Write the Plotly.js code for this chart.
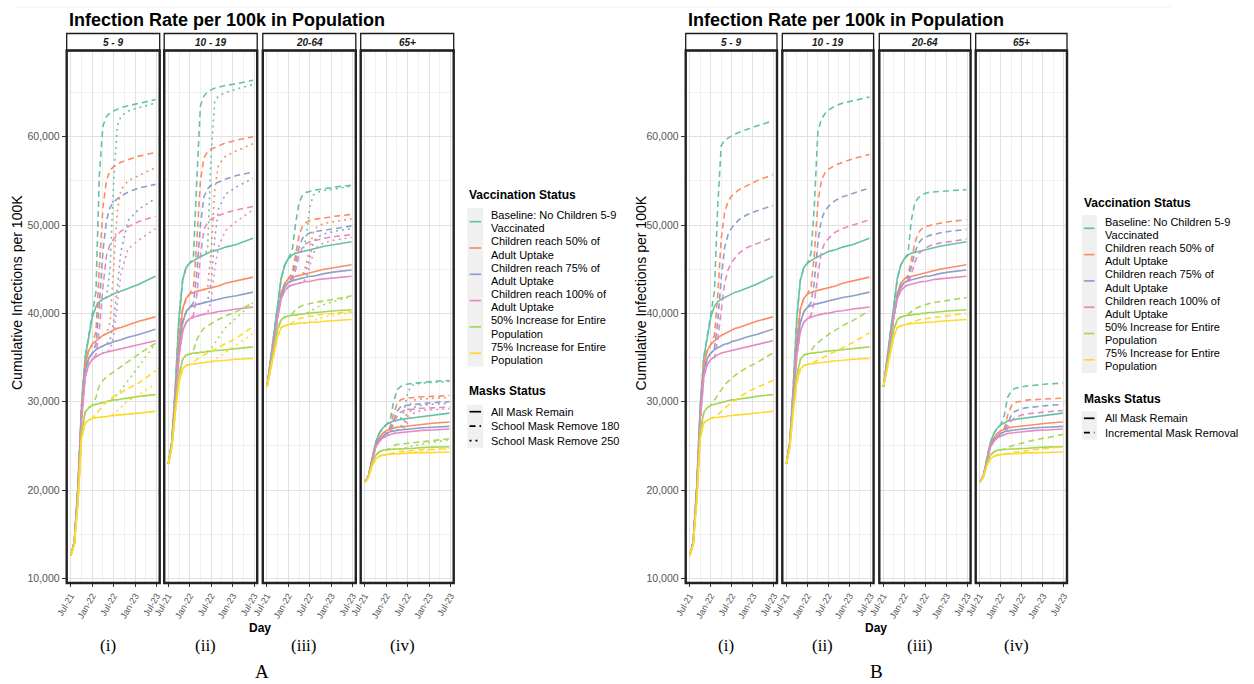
<!DOCTYPE html>
<html>
<head>
<meta charset="utf-8">
<script src="https://cdn.plot.ly/plotly-3.0.1.min.js"></script>
<style>
html,body{margin:0;padding:0;background:#ffffff;}
#chart{width:1254px;height:684px;}
</style>
</head>
<body>
<div id="chart"></div>
<script>
// ---------------- DATA ----------------
const dates = ['2021-07-03','2021-08-01','2021-09-01','2021-10-01','2021-11-01','2021-12-01',
  '2022-01-01','2022-02-01','2022-03-01','2022-04-01','2022-05-01','2022-06-01',
  '2022-07-01','2022-08-01','2022-09-01','2022-11-01','2023-02-01','2023-06-22'];
// dashed series continue the solid series from 2022-01-01 (index 6); dotted from 2022-05-01 (index 10)

const ageGroups = ['5 - 9', '10 - 19', '20-64', '65+'];
const panelLabels = ['(i)', '(ii)', '(iii)', '(iv)'];
const figureLabels = ['A', 'B'];
const scenarioLines = [
  ['Baseline: No Children 5-9', 'Vaccinated'],
  ['Children reach 50% of', 'Adult Uptake'],
  ['Children reach 75% of', 'Adult Uptake'],
  ['Children reach 100% of', 'Adult Uptake'],
  ['50% Increase for Entire', 'Population'],
  ['75% Increase for Entire', 'Population']
];
const masksA = ['All Mask Remain', 'School Mask Remove 180', 'School Mask Remove 250'];
const masksB = ['All Mask Remain', 'Incremental Mask Removal'];

// All Mask Remain (same in A and B), one row per vaccination scenario
const SOLID_5_9 = [
  [12600,14200,20500,29500,35000,37500,39600,40800,41300,41600,41800,42000,42200,42400,42500,42800,43300,44200],
  [12600,14100,20200,28800,34200,35800,36500,36900,37200,37500,37700,37900,38100,38300,38400,38700,39100,39600],
  [12600,14100,20000,28300,33500,34900,35500,35900,36100,36300,36500,36600,36800,36900,37000,37300,37600,38200],
  [12600,14000,19800,27800,32800,34200,34800,35100,35300,35500,35600,35700,35800,35900,36000,36200,36500,36900],
  [12600,13900,19000,26500,28800,29300,29600,29700,29800,29900,30000,30100,30200,30200,30300,30400,30600,30800],
  [12600,13800,18700,25800,27600,27900,28100,28200,28200,28300,28300,28400,28400,28500,28500,28600,28700,28900]
];
const SOLID_10_19 = [
  [23000,25500,32000,39500,43800,45200,45700,46000,46200,46400,46600,46800,47000,47100,47200,47500,47800,48500],
  [23000,25300,31000,37000,40500,41700,42200,42400,42500,42600,42700,42800,42900,43000,43100,43400,43700,44100],
  [23000,25200,30800,36000,39000,40200,40700,40900,41000,41100,41200,41300,41400,41500,41600,41800,42000,42400],
  [23000,25100,30500,35200,38000,39000,39400,39600,39700,39800,39900,40000,40000,40100,40200,40300,40500,40700],
  [23000,25000,29500,33000,34800,35300,35400,35500,35500,35600,35600,35700,35700,35800,35800,35900,36000,36200],
  [23000,24800,29000,32200,33700,34100,34200,34300,34300,34400,34400,34500,34500,34600,34600,34700,34800,34900]
];
const SOLID_20_64 = [
  [31700,34500,37500,41000,44000,45500,46200,46600,46800,46900,47000,47100,47200,47300,47400,47600,47800,48100],
  [31700,34200,37000,40000,42300,43400,43900,44100,44200,44300,44400,44500,44600,44700,44800,45000,45200,45500],
  [31700,34100,36900,39800,42000,43000,43500,43700,43800,43900,44000,44100,44200,44200,44300,44500,44700,44900],
  [31700,34000,36800,39600,41700,42600,43000,43200,43300,43400,43500,43600,43600,43700,43800,43900,44000,44200],
  [31700,33600,36000,38200,39300,39600,39700,39800,39800,39900,39900,40000,40000,40100,40100,40200,40300,40400],
  [31700,33400,35500,37400,38400,38600,38700,38800,38800,38900,38900,38900,39000,39000,39000,39100,39200,39300]
];
const SOLID_65 = [
  [20900,21500,23500,25300,26400,27000,27400,27600,27800,27900,28000,28050,28100,28150,28200,28300,28450,28700],
  [20900,21500,23300,25000,25900,26400,26700,26900,27000,27100,27150,27200,27250,27300,27350,27450,27550,27700],
  [20900,21500,23300,24900,25700,26100,26400,26600,26700,26750,26800,26850,26900,26950,27000,27050,27100,27200],
  [20900,21500,23200,24800,25500,25900,26100,26300,26400,26450,26500,26550,26600,26650,26700,26750,26800,26900],
  [20900,21400,22900,23900,24300,24500,24550,24600,24600,24650,24650,24700,24700,24700,24750,24800,24850,24900],
  [20900,21400,22700,23500,23800,23950,24000,24050,24100,24100,24100,24150,24150,24200,24200,24200,24250,24300]
];

// A: School Mask Remove 180 (from 2022-01-01)
const DASH180_5_9 = [
  [39600,42500,55500,61200,62300,62700,62900,63100,63300,63500,63800,64200],
  [36500,38000,45000,52000,55000,56200,56600,56900,57100,57400,57800,58200],
  [35500,36500,41000,47000,50500,52000,52600,53000,53300,53700,54200,54600],
  [34800,35300,38000,43000,46500,47800,48400,48900,49300,49800,50400,51000],
  [29600,30500,31800,32400,32800,33100,33400,33700,34000,34600,35400,36600],
  [28100,28600,29100,29600,30000,30300,30600,30800,31000,31500,32100,33500]
];
const DASH180_10_19 = [
  [45700,46500,55000,63500,64600,65100,65300,65500,65600,65800,66000,66400],
  [42200,43000,48000,55000,57600,58300,58600,58800,59000,59300,59600,60000],
  [40700,41200,44500,50000,53200,54100,54500,54700,54900,55200,55600,56000],
  [39400,39800,42000,46500,49500,50300,50700,50900,51100,51400,51700,52100],
  [35400,35800,37000,37800,38300,38600,38900,39100,39300,39700,40200,41200],
  [34200,34400,34800,35100,35300,35500,35700,35900,36100,36500,37200,38500]
];
const DASH180_20_64 = [
  [46200,47000,50000,52500,53400,53700,53800,53900,54000,54100,54300,54500],
  [43900,44500,46500,48800,49900,50300,50500,50600,50700,50800,51000,51200],
  [43500,44000,45600,47500,48500,48900,49100,49200,49300,49400,49600,49900],
  [43000,43400,44800,46500,47500,47900,48100,48200,48300,48500,48700,48900],
  [39700,39900,40400,40700,40900,41000,41100,41200,41300,41400,41600,42000],
  [38700,38900,39200,39400,39500,39600,39700,39700,39800,39900,40000,40200]
];
const DASH180_65 = [
  [27400,27800,29800,31300,31700,31900,32000,32050,32100,32200,32300,32400],
  [26700,27100,28500,29700,30200,30350,30400,30450,30500,30550,30600,30700],
  [26400,26700,27800,28900,29400,29550,29600,29650,29700,29800,29900,30000],
  [26100,26400,27300,28300,28800,29000,29100,29150,29200,29250,29300,29400],
  [24550,24700,25000,25150,25200,25250,25300,25350,25400,25500,25600,25800],
  [24000,24100,24250,24300,24350,24400,24400,24450,24500,24550,24600,24700]
];

// A: School Mask Remove 250 (from 2022-05-01)
const DOT250_5_9 = [
  [41800,45000,55000,61200,62300,62900,63300,63800],
  [37700,39000,45000,51500,54000,55000,55600,56500],
  [36500,37000,39000,43000,47000,50500,51800,53000],
  [35600,35900,37500,41000,44500,47300,48300,49600],
  [30000,30100,30400,30800,31300,32400,34000,36600],
  [28300,28400,28600,29000,29400,30100,30800,32000]
];
const DOT250_10_19 = [
  [46600,47200,58000,64000,64600,65000,65400,65900],
  [42700,42900,47000,54000,56800,57800,58400,59200],
  [41200,41400,43500,48500,51800,53500,54300,55300],
  [39900,40000,41500,45000,47500,49400,50400,51700],
  [35600,35700,36000,36600,37300,38400,39500,41200],
  [34400,34500,34600,34800,35000,35600,36400,37700]
];
const DOT250_20_64 = [
  [47000,48500,52000,53400,53700,53900,54100,54400],
  [44400,45500,47500,49200,49800,50200,50400,50700],
  [44000,44800,46500,48000,48600,49000,49300,49600],
  [43500,44000,45300,46800,47500,48000,48300,48600],
  [39900,40000,40200,40500,40700,41000,41400,41900],
  [38900,38900,39000,39200,39300,39600,39800,40100]
];
const DOT250_65 = [
  [28000,29000,31000,31800,32000,32100,32200,32300],
  [27150,27800,29000,29900,30200,30300,30400,30500],
  [26800,27300,28300,29100,29400,29600,29700,29800],
  [26500,26900,27700,28400,28800,29000,29100,29200],
  [24650,24700,24800,24950,25050,25200,25400,25700],
  [24100,24150,24200,24300,24350,24450,24550,24650]
];

// B: Incremental Mask Removal (from 2022-01-01)
const INCR_5_9 = [
  [39600,42500,52000,59000,59600,59900,60100,60300,60500,60800,61200,61800],
  [36500,37500,42000,48500,51500,52700,53300,53700,54000,54400,55000,55700],
  [35500,36000,39000,44000,47500,49000,49700,50200,50600,51100,51600,52200],
  [34800,35000,37000,40500,43500,45000,45800,46300,46800,47400,47900,48600],
  [29600,30200,30800,31400,31900,32300,32700,33000,33300,33800,34400,35500],
  [28100,28300,28500,28900,29300,29600,29900,30200,30500,31000,31600,32400]
];
const INCR_10_19 = [
  [45700,46800,52000,60500,62000,62600,63000,63300,63500,63800,64100,64500],
  [42200,43000,46500,52500,55000,55900,56300,56600,56800,57100,57500,58000],
  [40700,41200,43500,48000,50600,51600,52100,52500,52800,53200,53600,54200],
  [39400,39800,41300,44500,47000,48000,48500,48900,49200,49600,50000,50600],
  [35400,35800,36300,36700,37000,37300,37600,37900,38100,38600,39200,40300],
  [34200,34300,34500,34700,34900,35100,35300,35500,35700,36100,36700,37800]
];
const INCR_20_64 = [
  [46200,46800,50500,52500,53100,53400,53600,53700,53750,53800,53900,54000],
  [43900,44300,46000,48000,49100,49600,49800,49950,50050,50200,50400,50600],
  [43500,43800,45200,46900,47900,48400,48600,48800,48900,49100,49300,49500],
  [43000,43300,44400,45800,46700,47100,47400,47600,47750,47950,48150,48400],
  [39700,39900,40200,40500,40700,40850,41000,41100,41200,41350,41500,41800],
  [38700,38800,39000,39150,39250,39350,39400,39500,39550,39650,39800,40000]
];
const INCR_65 = [
  [27400,28500,30500,31200,31500,31600,31700,31750,31800,31900,32000,32100],
  [26700,27000,28500,29500,29900,30000,30100,30150,30200,30250,30300,30400],
  [26400,26600,27600,28500,28900,29100,29200,29300,29350,29450,29550,29700],
  [26100,26300,27000,27800,28200,28400,28500,28600,28650,28750,28850,29000],
  [24550,24650,24850,25000,25100,25200,25300,25400,25500,25700,25900,26300],
  [24000,24050,24150,24250,24300,24350,24400,24450,24500,24600,24700,24900]
];

// ---------------- STYLE / LAYOUT ----------------
const W = 1254, H = 684;
const colors = ['#66C2A5','#FC8D62','#8DA0CB','#E78AC3','#A6D854','#FFD92F'];
const DASH = '6px,4px';
const DOT = '2px,4px';
const FONT = 'Liberation Sans, Arial, sans-serif';
const SERIF = 'Liberation Serif, Times New Roman, serif';
const LW = 1.6;

const PANEL_TOP = 50.5, PANEL_BOTTOM = 583, STRIP_TOP = 33.5;
const figs = [
  {lefts: [66.7, 164.2, 262.8, 360.7], w: 93, yaxis: 'y', yName: 'yaxis', firstX: 1,
   dashSets: [DASH180_5_9, DASH180_10_19, DASH180_20_64, DASH180_65],
   dotSets: [DOT250_5_9, DOT250_10_19, DOT250_20_64, DOT250_65],
   legend: {x: 467.3, boxW: 16, titleY: 195, boxTop: 208, keyY0: 221.7, step: 26.3, textX: 489.3,
            mTitleY: 391, mKeys: [411.7, 426.2, 440.7], masks: masksA},
   yTitleX: 17, labelX: 261.7},
  {lefts: [685.7, 782.3, 879.3, 975.7], w: 91.3, yaxis: 'y2', yName: 'yaxis2', firstX: 5,
   dashSets: [INCR_5_9, INCR_10_19, INCR_20_64, INCR_65],
   dotSets: null,
   legend: {x: 1081.7, boxW: 15, titleY: 203.3, boxTop: 215, keyY0: 228.3, step: 26.3, textX: 1103.3,
            mTitleY: 399, mKeys: [418.3, 432.7], masks: masksB},
   yTitleX: 640.5, labelX: 876.4}
];
const solidSets = [SOLID_5_9, SOLID_10_19, SOLID_20_64, SOLID_65];

const PX = x => x / W;
const PY = y => 1 - y / H;

const traces = [];
function addLine(xs, ys, color, dash, xa, ya) {
  traces.push({type: 'scatter', mode: 'lines', x: xs, y: ys, xaxis: xa, yaxis: ya,
    line: {color: color, width: LW, dash: dash}, hoverinfo: 'skip', showlegend: false});
}

const layout = {
  width: W, height: H, margin: {l: 0, r: 0, t: 0, b: 0},
  paper_bgcolor: '#ffffff', plot_bgcolor: '#ffffff', showlegend: false,
  font: {family: FONT, color: '#000'},
  shapes: [], annotations: []
};

function xAxisDef(left, w, anchor) {
  return {
    domain: [PX(left), PX(left + w)], anchor: anchor, type: 'date',
    range: ['2021-05-28', '2023-07-28'], tick0: '2021-07-01', dtick: 'M6', tickformat: '%b-%y',
    tickangle: -60, tickfont: {size: 9, color: '#555', family: FONT},
    ticks: 'outside', ticklen: 3, tickcolor: '#333', tickwidth: 1,
    showgrid: true, gridcolor: '#e1e1e1', gridwidth: 1,
    minor: {tick0: '2021-07-01', dtick: 'M3', showgrid: true, gridcolor: '#ececec', gridwidth: 0.8, ticks: ''},
    zeroline: false, showline: false, fixedrange: true
  };
}
function yAxisDef(anchor) {
  return {
    domain: [PY(PANEL_BOTTOM), PY(PANEL_TOP)], anchor: anchor,
    range: [9470, 69760], tick0: 0, dtick: 10000, tickformat: ',d',
    tickfont: {size: 10.5, color: '#555', family: FONT},
    ticks: 'outside', ticklen: 4, tickcolor: '#333', tickwidth: 1,
    showgrid: true, gridcolor: '#e1e1e1', gridwidth: 1,
    minor: {dtick: 5000, showgrid: true, gridcolor: '#ececec', gridwidth: 0.8, ticks: ''},
    zeroline: false, showline: false, fixedrange: true
  };
}
function ann(x, y, text, size, opts) {
  layout.annotations.push(Object.assign({
    xref: 'paper', yref: 'paper', x: PX(x), y: PY(y), text: text, showarrow: false,
    xanchor: 'center', yanchor: 'middle', font: {size: size, color: '#000', family: FONT}
  }, opts || {}));
}
function rect(x0, x1, y0, y1, line, fill) {
  layout.shapes.push({type: 'rect', xref: 'paper', yref: 'paper', x0: PX(x0), x1: PX(x1), y0: PY(y1), y1: PY(y0),
    line: line, fillcolor: fill || 'rgba(0,0,0,0)', layer: 'above'});
}
function seg(x0, x1, y, color, dash, width) {
  layout.shapes.push({type: 'line', xref: 'paper', yref: 'paper', x0: PX(x0), x1: PX(x1), y0: PY(y), y1: PY(y),
    line: {color: color, width: width || LW, dash: dash}, layer: 'above'});
}

// faint top rule of the source image
seg(17, 1170, 7, '#efefef', 'solid', 1);

figs.forEach((f, fi) => {
  f.lefts.forEach((left, p) => {
    const xi = f.firstX + p;
    const xa = xi === 1 ? 'x' : 'x' + xi;
    const xName = xi === 1 ? 'xaxis' : 'xaxis' + xi;
    layout[xName] = xAxisDef(left, f.w, f.yaxis);
    for (let s = 0; s < 6; s++) {
      const solid = solidSets[p][s];
      addLine(dates, solid, colors[s], 'solid', xa, f.yaxis);
      addLine(dates, solid.slice(0, 6).concat(f.dashSets[p][s]), colors[s], DASH, xa, f.yaxis);
      if (f.dotSets) addLine(dates, solid.slice(0, 10).concat(f.dotSets[p][s]), colors[s], DOT, xa, f.yaxis);
    }
    // strip + panel border
    rect(left, left + f.w, STRIP_TOP, PANEL_TOP, {color: '#1a1a1a', width: 1.3}, '#ffffff');
    rect(left, left + f.w, PANEL_TOP, PANEL_BOTTOM, {color: '#222222', width: 2.4});
    ann(left + f.w / 2, 42.3, '<b><i>' + ageGroups[p] + '</i></b>', 10, {font: {size: 10, color: '#1a1a1a', family: FONT}});
    ann(left + f.w / 2 - 5, 645.7, panelLabels[p], 17, {font: {size: 17, color: '#000', family: SERIF}});
  });
  layout[f.yName] = yAxisDef(f.firstX === 1 ? 'x' : 'x' + f.firstX);

  const right = f.lefts[3] + f.w;
  // titles
  ann(f.lefts[0], 19.7, '<b>Infection Rate per 100k in Population</b>', 18, {xanchor: 'left'});
  ann(f.yTitleX, 293, 'Cumulative Infections per 100K', 14, {textangle: -90});
  ann((f.lefts[0] + right) / 2, 627.7, '<b>Day</b>', 12);
  ann(f.labelX, 683.5, figureLabels[fi], 19, {yanchor: 'bottom', font: {size: 19, color: '#000', family: SERIF}});

  // legend: vaccination status
  const L = f.legend;
  ann(L.x, L.titleY, '<b>Vaccination Status</b>', 12, {xanchor: 'left'});
  rect(L.x, L.x + L.boxW, L.boxTop, L.keyY0 + 5 * L.step + 13.3, {width: 0}, '#f0f0f0');
  scenarioLines.forEach((lines, s) => {
    const ky = L.keyY0 + s * L.step;
    seg(L.x + 2.2, L.x + L.boxW - 2.2, ky, colors[s], 'solid', 1.7);
    ann(L.textX, ky - 6.65, lines[0], 11, {xanchor: 'left'});
    ann(L.textX, ky + 6.65, lines[1], 11, {xanchor: 'left'});
  });
  // legend: masks status
  ann(L.x, L.mTitleY, '<b>Masks Status</b>', 12, {xanchor: 'left'});
  rect(L.x, L.x + L.boxW, L.mKeys[0] - 7, L.mKeys[L.mKeys.length - 1] + 7, {width: 0}, '#f0f0f0');
  const mDash = ['solid', DASH, DOT];
  L.masks.forEach((m, k) => {
    seg(L.x + 2.2, L.x + L.boxW - 2.2, L.mKeys[k], '#000000', mDash[k], 1.7);
    ann(L.textX, L.mKeys[k], m, 11, {xanchor: 'left'});
  });
});

Plotly.newPlot('chart', traces, layout, {staticPlot: true, displayModeBar: false});
</script>
</body>
</html>
